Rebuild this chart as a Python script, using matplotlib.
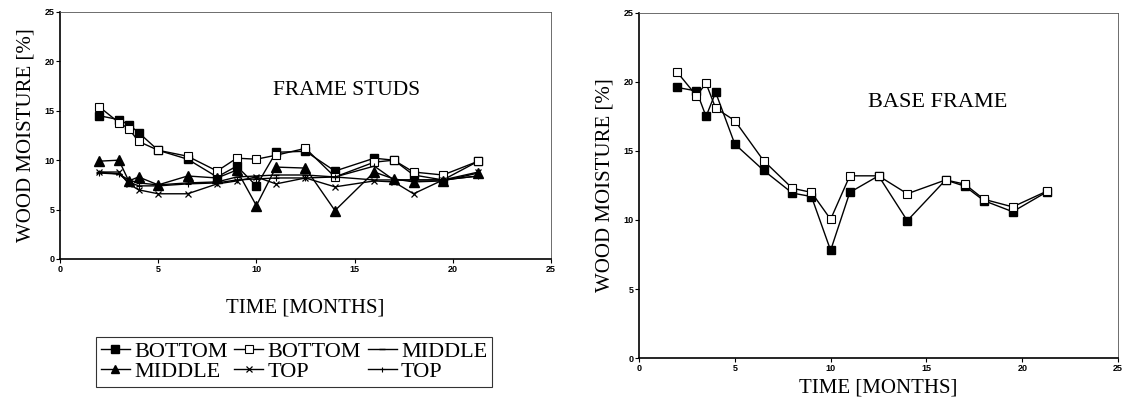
import numpy as np
from matplotlib import pyplot as plt

# months of measurement
months = [2, 3, 3.5, 4, 5, 6.5, 8, 9, 10, 11, 12.5, 14, 16, 17, 18, 19.5, 21.3]

# frame studs
studs_bottom_a = [14.5, 14.1, 13.6, 12.8, 11.0, 10.1, 8.3, 9.4, 7.4, 10.8, 10.9, 8.9, 10.2, 10.0, 8.5, 8.0, 9.9]
studs_bottom_b = [15.4, 13.8, 13.2, 11.9, 11.0, 10.4, 8.9, 10.2, 10.1, 10.5, 11.2, 8.3, 9.8, 10.0, 8.8, 8.5, 9.9]
studs_middle_a = [8.8, 8.6, 8.0, 7.7, 7.5, 7.7, 7.8, 8.3, 8.4, 8.5, 8.5, 8.3, 8.0, 8.0, 8.0, 8.0, 8.4]
studs_middle_b = [9.9, 10.0, 7.9, 8.3, 7.5, 8.4, 8.2, 9.0, 5.4, 9.3, 9.2, 4.9, 8.8, 8.1, 7.8, 7.9, 8.7]
studs_top_a = [8.8, 8.8, 7.6, 7.0, 6.6, 6.6, 7.6, 7.9, 8.3, 7.6, 8.2, 7.3, 7.9, 7.8, 6.6, 8.0, 8.8]
studs_top_b = [8.7, 8.6, 7.8, 7.4, 7.4, 7.6, 7.7, 8.0, 8.1, 8.2, 8.2, 8.3, 9.4, 8.0, 8.0, 8.0, 8.4]

# base frame
base_filled = [19.6, 19.35, 17.5, 19.25, 15.5, 13.6, 11.95, 11.7, 7.8, 12.0, 13.2, 9.95, 12.9, 12.45, 11.4, 10.6, 12.05]
base_open = [20.7, 19.0, 19.9, 18.1, 17.2, 14.3, 12.3, 12.0, 10.05, 13.2, 13.2, 11.9, 12.9, 12.6, 11.5, 10.95, 12.1]

ticks = [0, 5, 10, 15, 20, 25]

serif = ["Liberation Serif", "DejaVu Serif"]
plt.rcParams["font.family"] = serif

fig = plt.figure(figsize=(11.38, 4.05), dpi=100)
ax1 = fig.add_axes([0.0527, 0.3605, 0.4315, 0.61])
ax2 = fig.add_axes([0.5615, 0.116, 0.421, 0.852])


def style_axis(ax, xpad):
    ax.set_xlim(0, 25)
    ax.set_ylim(0, 25)
    ax.set_xticks(ticks)
    ax.set_yticks(ticks)
    ax.tick_params(direction="out", length=3, width=0.8, labelsize=6.5, pad=1)
    for lab in ax.get_xticklabels() + ax.get_yticklabels():
        lab.set_family("Liberation Sans")
        lab.set_fontweight("bold")
    for side in ["top", "right"]:
        ax.spines[side].set_linewidth(0.6)
        ax.spines[side].set_color("#555555")
    for side in ["left", "bottom"]:
        ax.spines[side].set_linewidth(1.2)
    ax.set_xlabel("TIME [MONTHS]", fontsize=15, labelpad=xpad)
    ax.set_ylabel("WOOD MOISTURE [%]", fontsize=15, labelpad=6)


style_axis(ax1, 18)
style_axis(ax2, 4)

kw = dict(color="black", linewidth=1.0)
h1, = ax1.plot(months, studs_bottom_a, marker="s", ms=6, mfc="black", **kw)
h2, = ax1.plot(months, studs_bottom_b, marker="s", ms=6, mfc="white", mew=0.8, **kw)
h3, = ax1.plot(months, studs_middle_a, marker="_", ms=5, **kw)
h4, = ax1.plot(months, studs_middle_b, marker="^", ms=7, mfc="black", **kw)
h5, = ax1.plot(months, studs_top_a, marker="x", ms=5, mew=0.9, **kw)
h6, = ax1.plot(months, studs_top_b, marker="+", ms=4, mew=0.8, **kw)
ax1.text(14.6, 17.1, "FRAME STUDS", fontsize=15.5, ha="center", va="center")

handles = [h1, h4, h2, h5, h3, h6]
labels = ["BOTTOM", "MIDDLE", "BOTTOM", "TOP", "MIDDLE", "TOP"]
leg = fig.legend(handles, labels, ncol=3, loc="center",
                 bbox_to_anchor=(0.2583, 0.107), fontsize=16,
                 frameon=True, fancybox=False, edgecolor="black",
                 handlelength=1.3, handletextpad=0.2, columnspacing=0.3,
                 labelspacing=0.0, borderpad=0.2, markerscale=0.9)
leg.get_frame().set_linewidth(0.8)

ax2.plot(months, base_filled, marker="s", ms=6, mfc="black", **kw)
ax2.plot(months, base_open, marker="s", ms=6, mfc="white", mew=0.8, **kw)
ax2.text(15.6, 18.5, "BASE FRAME", fontsize=16, ha="center", va="center")

fig.savefig("out.png", dpi=100)
